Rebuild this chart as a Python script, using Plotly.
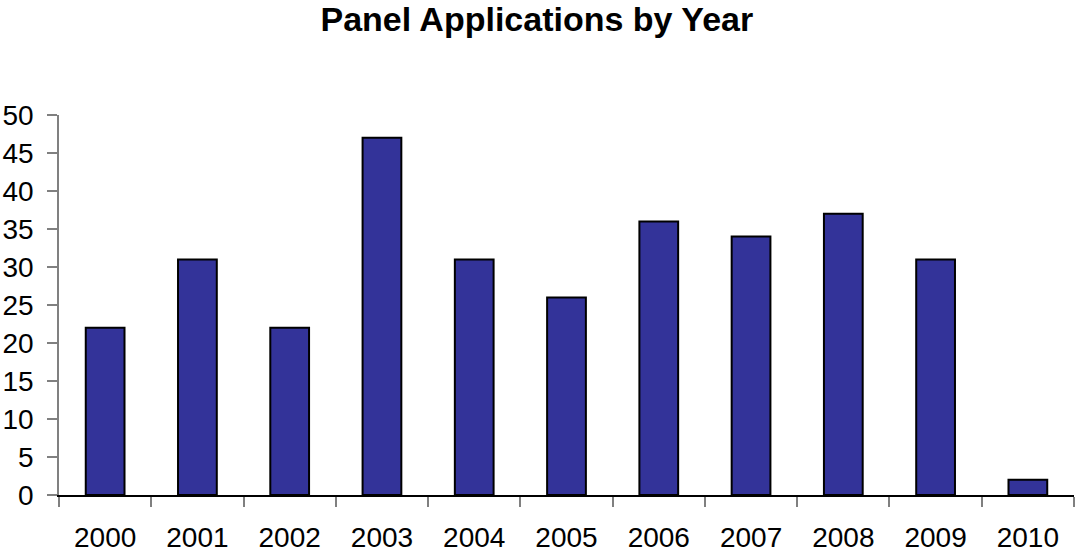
import plotly.graph_objects as go

years = ["2000", "2001", "2002", "2003", "2004", "2005", "2006", "2007", "2008", "2009", "2010"]
applications = [22, 31, 22, 47, 31, 26, 36, 34, 37, 31, 2]
y_ticks = [0, 5, 10, 15, 20, 25, 30, 35, 40, 45, 50]

FONT = "Liberation Sans, Arial, sans-serif"

fig = go.Figure(
    go.Bar(
        x=years,
        y=applications,
        marker=dict(color="#333399", line=dict(color="#000000", width=2)),
    )
)

fig.update_layout(
    width=1078,
    height=554,
    margin=dict(l=59, r=4, t=115, b=59),
    paper_bgcolor="white",
    plot_bgcolor="white",
    bargap=0.58,
    showlegend=False,
    title=dict(
        text="<b>Panel Applications by Year</b>",
        x=0.498,
        xanchor="center",
        y=0.965,
        yanchor="middle",
        font=dict(family=FONT, size=34, color="black"),
    ),
    font=dict(family=FONT, size=28, color="black"),
)

fig.update_xaxes(
    type="category",
    automargin=False,
    showline=True,
    linecolor="#000000",
    linewidth=1.5,
    ticks="outside",
    tickson="boundaries",
    ticklen=10,
    tickcolor="#808080",
    tickwidth=1.5,
    showgrid=False,
    ticklabelstandoff=17,
    tickfont=dict(family=FONT, size=28, color="black"),
)

fig.update_yaxes(
    range=[0, 50],
    tickvals=y_ticks,
    automargin=False,
    showline=True,
    linecolor="#808080",
    linewidth=1.5,
    ticks="outside",
    ticklen=10,
    tickcolor="#808080",
    tickwidth=1.5,
    showgrid=False,
    zeroline=False,
    ticklabelstandoff=8,
    tickfont=dict(family=FONT, size=28, color="black"),
)

fig.write_html("out.html")
